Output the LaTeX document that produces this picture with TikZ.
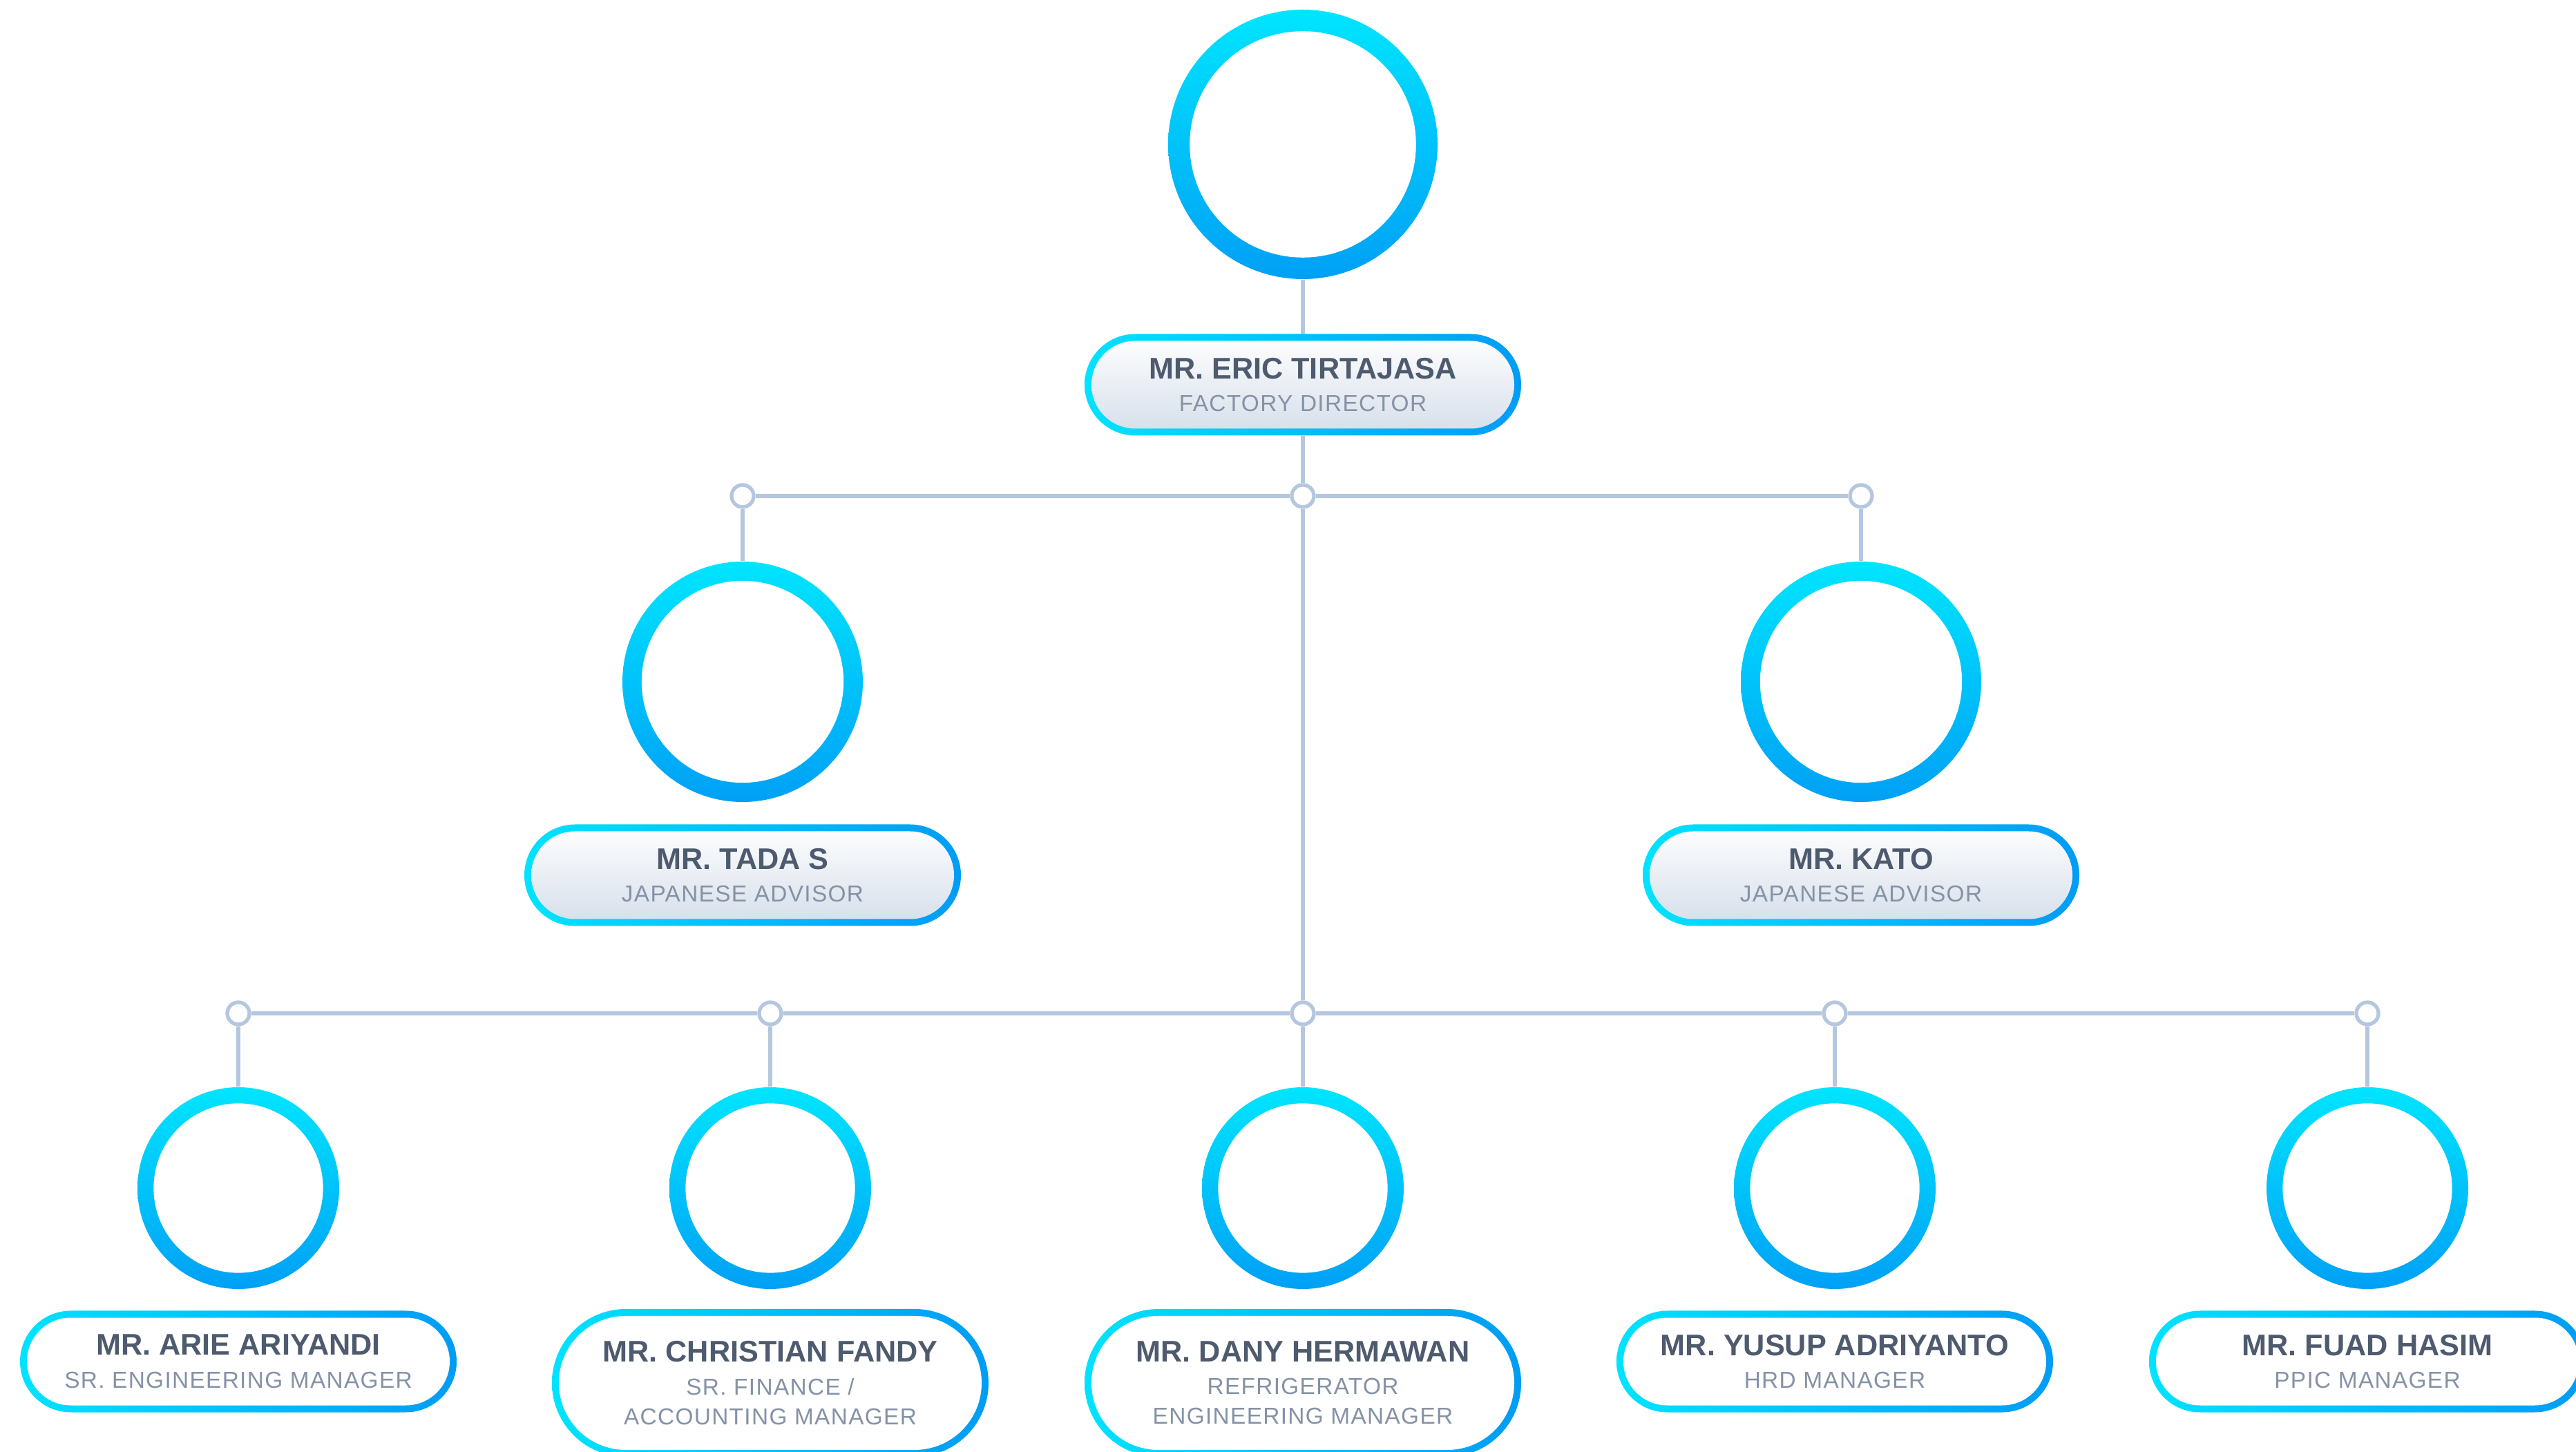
\documentclass[tikz,border=0pt]{standalone}
\usepackage{fontspec}
\setmainfont{Liberation Sans}
\newfontfamily\rolefont[LetterSpace=4]{Liberation Sans}

\definecolor{ringtop}{HTML}{00E5FF}
\definecolor{ringbot}{HTML}{00A0F5}
\definecolor{edgeleft}{HTML}{00E3FF}
\definecolor{edgeright}{HTML}{009CF4}
\definecolor{boxfill}{HTML}{D5DEEA}
\definecolor{linecol}{HTML}{B4C7DF}
\definecolor{namecol}{HTML}{4E5A6E}
\definecolor{rolecol}{HTML}{8592A6}

\newcommand{\role}[1]{{\rolefont\mdseries\fontsize{9.5}{11}\selectfont\color{rolecol}#1}}

\begin{document}
\begin{tikzpicture}[
    link/.style={draw=linecol, line width=1.5pt},
    dot/.style={circle, draw=linecol, fill=white, line width=1.5pt, minimum size=0.32cm, inner sep=0},
    ring/.style={circle, inner sep=0, minimum size=#1cm, top color=ringtop, bottom color=ringbot,
        path picture={\fill[white] (path picture bounding box.center) circle [radius=0.42*#1cm];}},
    cardbase/.style={rectangle, inner sep=0, minimum width=6.32cm, left color=edgeleft, right color=edgeright,
        align=center, text=namecol, font=\fontsize{12.3}{14}\selectfont\bfseries},
    greycard/.style={cardbase, minimum height=1.47cm, rounded corners=0.735cm,
        path picture={\shade[top color=white, bottom color=boxfill, rounded corners=0.635cm]
            ([shift={(0.1,0.1)}]path picture bounding box.south west) rectangle ([shift={(-0.1,-0.1)}]path picture bounding box.north east);}},
    whitecard/.style={cardbase, minimum height=1.47cm, rounded corners=0.735cm,
        path picture={\fill[white, rounded corners=0.635cm]
            ([shift={(0.1,0.1)}]path picture bounding box.south west) rectangle ([shift={(-0.1,-0.1)}]path picture bounding box.north east);}},
    tallcard/.style={cardbase, minimum height=2.14cm, rounded corners=1.07cm,
        path picture={\fill[white, rounded corners=0.97cm]
            ([shift={(0.1,0.1)}]path picture bounding box.south west) rectangle ([shift={(-0.1,-0.1)}]path picture bounding box.north east);}}
]
    \path[use as bounding box, fill=white] (0,0) rectangle (37.29,21.01);

    % director
    \node[ring=3.9] (ericpic) at (18.86,18.92) {};
    \node[greycard] (eric) at (18.86,15.44) {MR. ERIC TIRTAJASA\\[-0.5pt]\role{FACTORY DIRECTOR}};

    % advisors
    \node[dot] (dtop) at (18.86,13.83) {};
    \node[dot] (dleft) at (10.75,13.83) {};
    \node[dot] (dright) at (26.94,13.83) {};
    \node[ring=3.48] (tadapic) at (10.75,11.14) {};
    \node[greycard] (tada) at (10.75,8.34) {MR. TADA S\\[-0.5pt]\role{JAPANESE ADVISOR}};
    \node[ring=3.48] (katopic) at (26.94,11.14) {};
    \node[greycard] (kato) at (26.94,8.34) {MR. KATO\\[-0.5pt]\role{JAPANESE ADVISOR}};

    % managers
    \node[dot] (da) at (3.45,6.34) {};
    \node[dot] (db) at (11.15,6.34) {};
    \node[dot] (dc) at (18.86,6.34) {};
    \node[dot] (dd) at (26.56,6.34) {};
    \node[dot] (de) at (34.27,6.34) {};
    \node[ring=2.92] (ariepic) at (3.45,3.81) {};
    \node[ring=2.92] (christianpic) at (11.15,3.81) {};
    \node[ring=2.92] (danypic) at (18.86,3.81) {};
    \node[ring=2.92] (yusuppic) at (26.56,3.81) {};
    \node[ring=2.92] (fuadpic) at (34.27,3.81) {};
    \node[whitecard] (arie) at (3.45,1.30) {MR. ARIE ARIYANDI\\[-0.5pt]\role{SR. ENGINEERING MANAGER}};
    \node[tallcard] (christian) at (11.15,0.99) {MR. CHRISTIAN FANDY\\[-0.5pt]\role{SR. FINANCE /}\\[-1.8pt]\role{ACCOUNTING MANAGER}};
    \node[tallcard] (dany) at (18.86,0.99) {MR. DANY HERMAWAN\\[-0.5pt]\role{REFRIGERATOR}\\[-1.8pt]\role{ENGINEERING MANAGER}};
    \node[whitecard] (yusup) at (26.56,1.30) {MR. YUSUP ADRIYANTO\\[-0.5pt]\role{HRD MANAGER}};
    \node[whitecard] (fuad) at (34.27,1.30) {MR. FUAD HASIM\\[-0.5pt]\role{PPIC MANAGER}};

    % connectors
    \draw[link] (ericpic) -- (eric);
    \draw[link] (eric) -- (dtop);
    \draw[link] (dleft) -- (dtop) -- (dright);
    \draw[link] (dleft) -- (tadapic);
    \draw[link] (dright) -- (katopic);
    \draw[link] (dtop) -- (dc);
    \draw[link] (da) -- (db) -- (dc) -- (dd) -- (de);
    \draw[link] (da) -- (ariepic);
    \draw[link] (db) -- (christianpic);
    \draw[link] (dc) -- (danypic);
    \draw[link] (dd) -- (yusuppic);
    \draw[link] (de) -- (fuadpic);
\end{tikzpicture}
\end{document}
